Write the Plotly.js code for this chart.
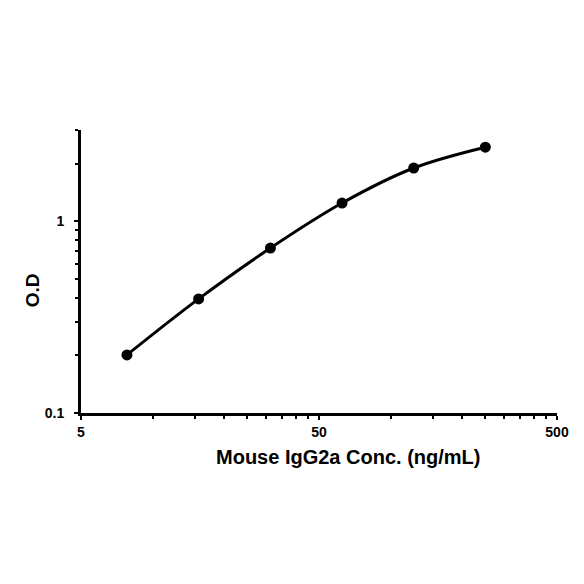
<!DOCTYPE html>
<html>
<head>
<meta charset="utf-8">
<script src="https://cdn.plot.ly/plotly-3.0.1.min.js"></script>
<style>
  html, body { margin: 0; padding: 0; background: #fff; }
  #plot { width: 584px; height: 584px; }
</style>
</head>
<body>
<div id="plot"></div>
<script>
// standard concentrations (ng/mL) and measured O.D
var conc = [7.8, 15.6, 31.25, 62.5, 125, 250]
var od = [0.201, 0.394, 0.726, 1.247, 1.90, 2.44]

var xTickVals = [5, 50, 500]
var xTickText = ['5', '50', '500']
var xMinorVals = [10, 15, 20, 25, 30, 35, 40, 45, 100, 150, 200, 250, 300, 350, 400, 450]
var yTickVals = [0.1, 1]
var yTickText = ['0.1', '1']
var yMinorVals = [0.2, 0.3, 0.4, 0.5, 0.6, 0.7, 0.8, 0.9, 2, 3]

var xTitle = 'Mouse IgG2a Conc. (ng/mL)'
var yTitle = 'O.D'

var boldFont = {family: 'Arial, "Liberation Sans", sans-serif', color: '#000', weight: 'bold'}

var trace = {
    x: conc,
    y: od,
    type: 'scatter',
    mode: 'lines+markers',
    line: {color: '#000', width: 3, shape: 'spline', smoothing: 1},
    marker: {color: '#000', size: 11},
    hoverinfo: 'x+y'
}

var layout = {
    width: 584, height: 584,
    margin: {l: 81, r: 27, t: 130, b: 171, pad: 0},
    paper_bgcolor: '#fff', plot_bgcolor: '#fff',
    showlegend: false,
    xaxis: {
        type: 'log',
        range: [Math.log10(5), Math.log10(500)],
        tickmode: 'array', tickvals: xTickVals, ticktext: xTickText,
        ticks: 'outside', ticklen: 4, tickwidth: 2, tickcolor: '#000',
        minor: {tickmode: 'array', tickvals: xMinorVals, ticks: 'outside', ticklen: 3, tickwidth: 2, tickcolor: '#000', showgrid: false},
        showline: true, linecolor: '#000', linewidth: 3,
        showgrid: false, zeroline: false,
        tickfont: Object.assign({size: 14}, boldFont)
    },
    yaxis: {
        type: 'log',
        range: [-1, Math.log10(3)],
        tickmode: 'array', tickvals: yTickVals, ticktext: yTickText,
        ticks: 'outside', ticklen: 4, tickwidth: 2, tickcolor: '#000',
        ticklabelstandoff: 7,
        minor: {tickmode: 'array', tickvals: yMinorVals, ticks: 'outside', ticklen: 3, tickwidth: 2, tickcolor: '#000', showgrid: false},
        showline: true, linecolor: '#000', linewidth: 3,
        showgrid: false, zeroline: false,
        tickfont: Object.assign({size: 14}, boldFont)
    },
    annotations: [
        {
            text: xTitle, xref: 'paper', yref: 'paper', x: 0.56, y: -0.154,
            xanchor: 'center', yanchor: 'middle', showarrow: false,
            font: Object.assign({size: 20}, boldFont)
        },
        {
            text: yTitle, xref: 'paper', yref: 'paper', x: -0.102, y: 0.435,
            xanchor: 'center', yanchor: 'middle', showarrow: false, textangle: -90,
            font: Object.assign({size: 19}, boldFont)
        }
    ]
}

Plotly.newPlot('plot', [trace], layout, {displayModeBar: false, staticPlot: true})
</script>
</body>
</html>
